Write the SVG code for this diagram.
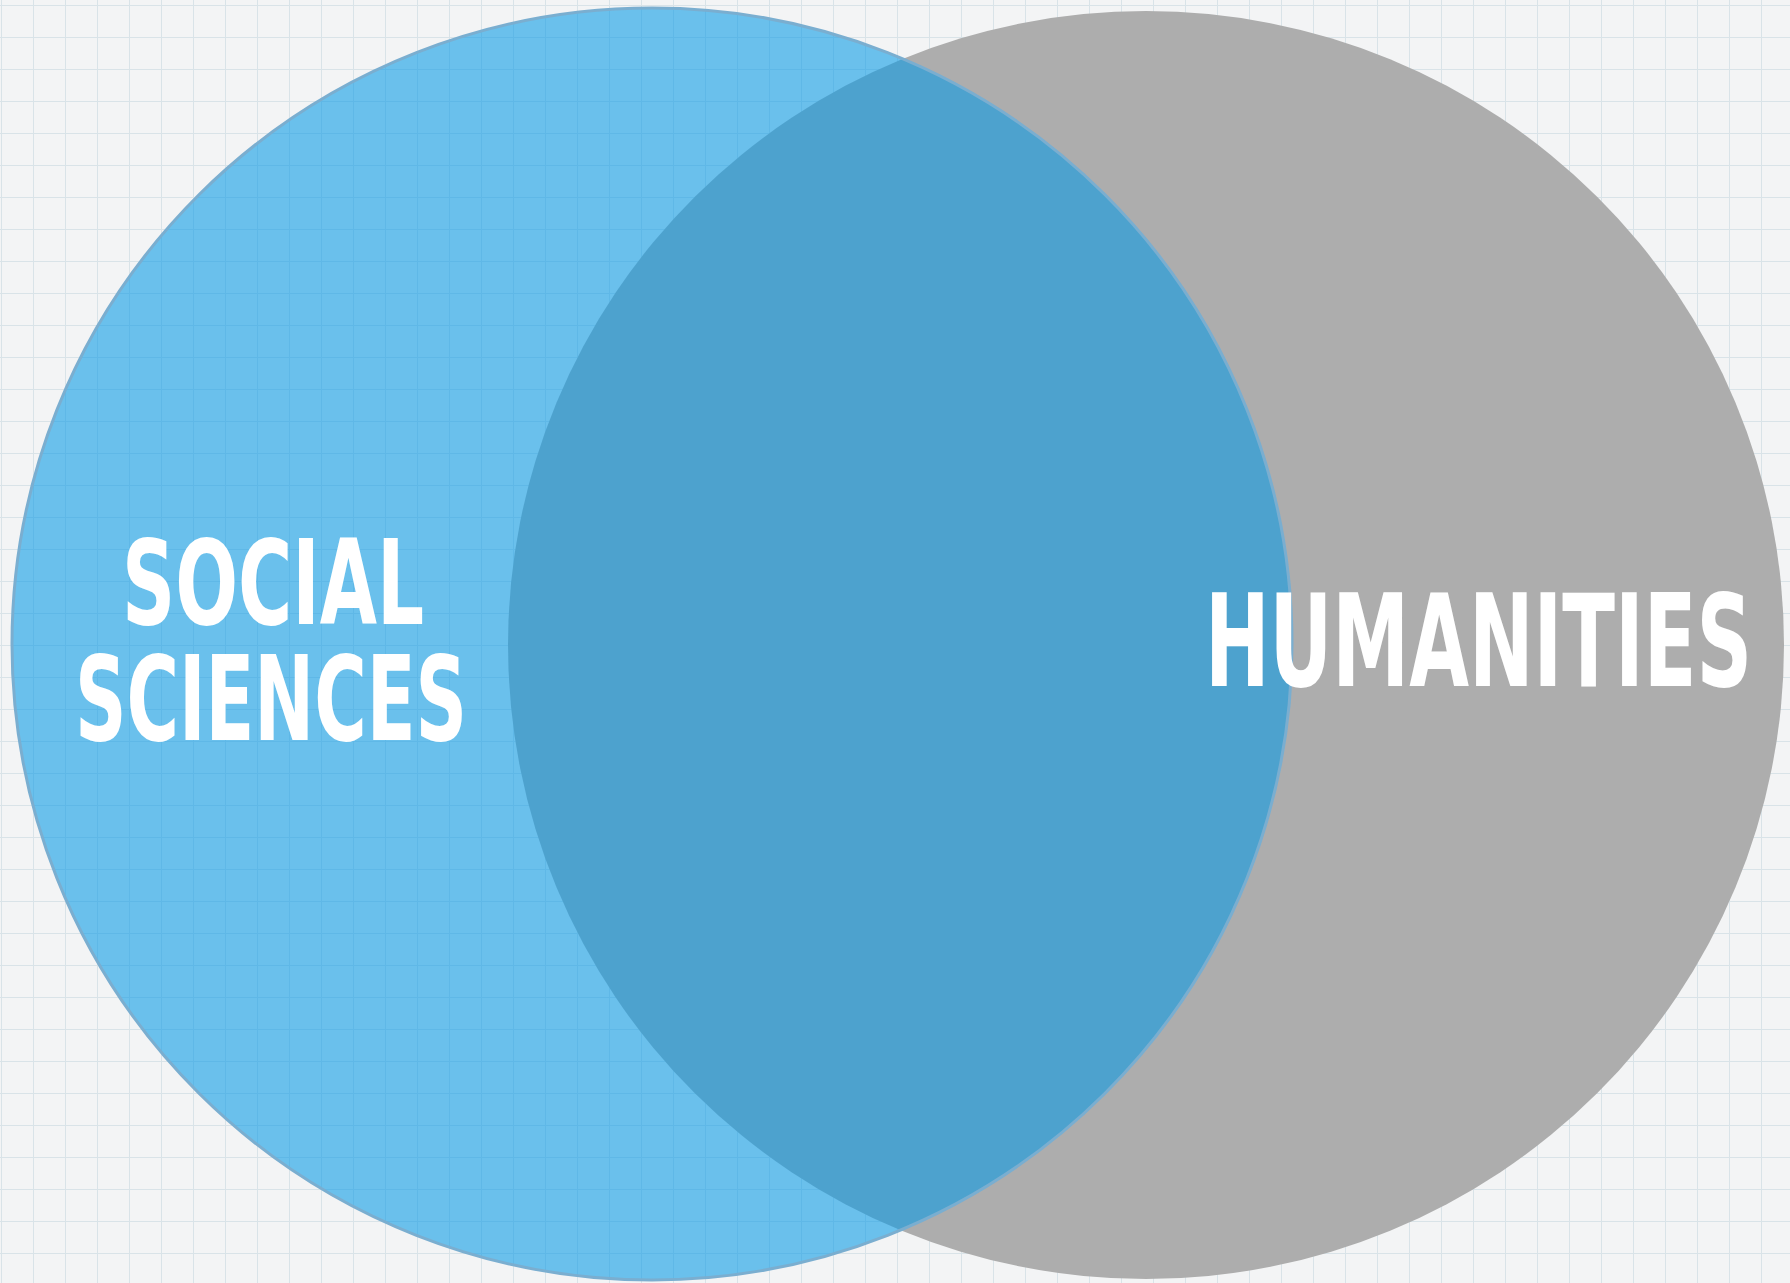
<svg xmlns="http://www.w3.org/2000/svg" width="1790" height="1283" viewBox="0 0 1790 1283">
  <style>
    .label { fill: #ffffff; font-family: "DejaVu Sans", "Liberation Sans", sans-serif; font-weight: bold; font-stretch: condensed; }
  </style>
  <defs>
    <pattern id="grid" x="1" y="5" width="32" height="32" patternUnits="userSpaceOnUse">
      <rect width="32" height="32" fill="#f3f4f5"/>
      <path d="M0 0 V32 M0 0 H32" stroke="#d9e3e8" stroke-width="2" fill="none"/>
    </pattern>
  </defs>
  <rect id="background" width="1790" height="1283" fill="url(#grid)"/>
  <g id="humanities">
    <ellipse cx="1146" cy="645" rx="638" ry="634" fill="#adadad"/>
  </g>
  <g id="social-sciences">
    <ellipse cx="652" cy="644" rx="640" ry="636" fill="#0a9ae6" fill-opacity="0.59" stroke="#7aaed0" stroke-width="3"/>
  </g>
  <g id="labels">
    <text class="label" x="122" y="624" font-size="118" textLength="302" lengthAdjust="spacingAndGlyphs">SOCIAL</text>
    <text class="label" x="75" y="740" font-size="118" textLength="392" lengthAdjust="spacingAndGlyphs">SCIENCES</text>
    <text class="label" x="1205" y="686" font-size="128" textLength="547" lengthAdjust="spacingAndGlyphs">HUMANITIES</text>
  </g>
  <g id="connectors"/>
</svg>
